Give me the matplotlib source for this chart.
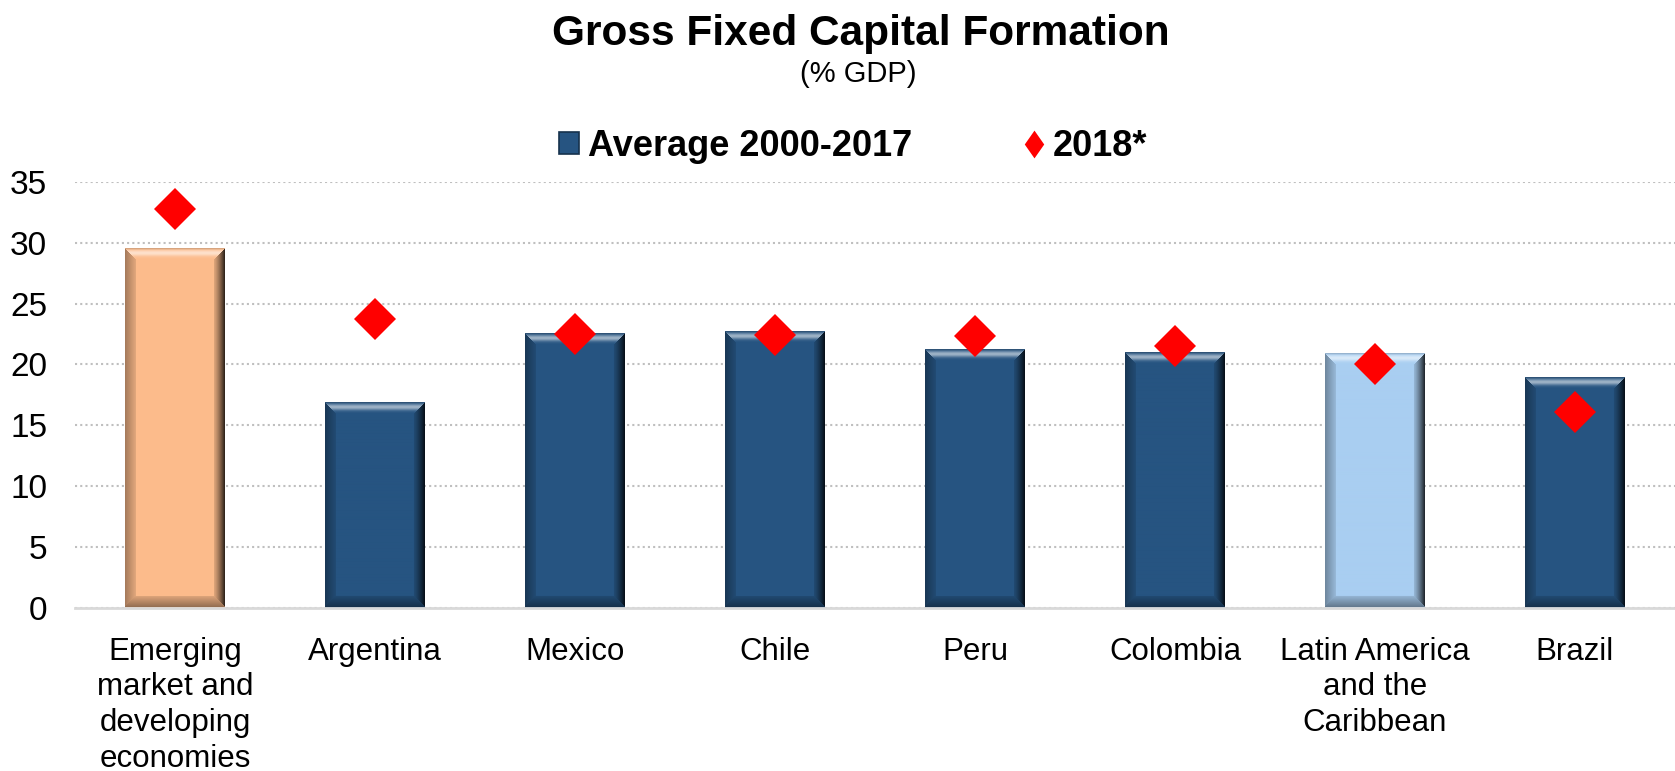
import numpy as np
import matplotlib
matplotlib.use("Agg")
import matplotlib.pyplot as plt
from matplotlib.colors import to_rgb
from matplotlib.lines import Line2D
from matplotlib.patches import Patch
from matplotlib.path import Path

# ---- data -------------------------------------------------------------
categories = [
    "Emerging\nmarket and\ndeveloping\neconomies",
    "Argentina",
    "Mexico",
    "Chile",
    "Peru",
    "Colombia",
    "Latin America\nand the\nCaribbean",
    "Brazil",
]
avg_2000_2017 = [29.5, 16.8, 22.5, 22.7, 21.2, 20.9, 20.85, 18.9]
value_2018 = [32.8, 23.7, 22.5, 22.4, 22.3, 21.5, 20.0, 16.1]
y_ticks = [0, 5, 10, 15, 20, 25, 30, 35]

NAVY = "#265481"
PEACH = "#FCBB8B"
SKY = "#A9CEF1"
bar_colors = [PEACH, NAVY, NAVY, NAVY, NAVY, NAVY, SKY, NAVY]

plt.rcParams["font.family"] = ["Liberation Sans", "DejaVu Sans"]

W, H, DPI = 1675, 771, 100
fig = plt.figure(figsize=(W / DPI, H / DPI), dpi=DPI)
fig.patch.set_facecolor("white")

ax_l, ax_r, ax_b, ax_t = 75, 1675, 607.5, 182
ax = fig.add_axes([ax_l / W, (H - ax_b) / H, (ax_r - ax_l) / W, (ax_b - ax_t) / H])

n = len(categories)
x = np.arange(n)
bar_w = 0.5
ymax = 35

px_per_x = (ax_r - ax_l) / n
px_per_y = (ax_b - ax_t) / ymax


def bevel_rgba(color, wpx, hpx, depth=11.0):
    """Shaded image of a bevelled bar face."""
    base = np.array(to_rgb(color))
    ys, xs = np.mgrid[0:hpx, 0:wpx].astype(float)
    dl = xs + 0.5
    dr = wpx - xs - 0.5
    dt = ys + 0.5
    db = hpx - ys - 0.5
    dmin = np.minimum(np.minimum(dl, dr), np.minimum(dt, db))
    t = np.clip(dmin / depth, 0, 1)
    light = np.zeros((hpx, wpx))
    dark = np.zeros((hpx, wpx))
    frame = dmin < depth
    top = frame & (dt <= np.minimum(np.minimum(dl, dr), db))
    bot = frame & ~top & (db <= np.minimum(dl, dr))
    right = frame & ~top & ~bot & (dr <= dl)
    left = frame & ~top & ~bot & ~right
    light[top] = 0.55 * np.exp(-((t[top] - 0.45) / 0.28) ** 2)
    dark[top] = 0.2 * np.clip(1 - t[top] / 0.2, 0, 1)
    dark[right] = 0.12 + 0.72 * (1 - t[right]) ** 1.3
    dark[left] = 0.10 + 0.25 * (1 - t[left])
    dark[bot] = 0.12 + 0.3 * (1 - t[bot])
    img = np.broadcast_to(base, (hpx, wpx, 3)).copy()
    img = img * (1 - dark[..., None])
    img = img + (1 - img) * light[..., None]
    return np.clip(img, 0, 1)


# bars (flat fill) with bevel shading laid over each one
ax.bar(x, avg_2000_2017, width=bar_w, color=bar_colors, zorder=2, linewidth=0)
for xi, v, c in zip(x, avg_2000_2017, bar_colors):
    wpx = int(round(bar_w * px_per_x))
    hpx = max(int(round(v * px_per_y)), 2)
    ax.imshow(bevel_rgba(c, wpx, hpx), extent=[xi - bar_w / 2, xi + bar_w / 2, 0, v],
              aspect="auto", interpolation="bilinear", zorder=2.5)

# 2018 markers
ax.plot(x, value_2018, linestyle="none", marker="D", markersize=21,
        color="#FF0000", markeredgewidth=0, zorder=4)

ax.set_xlim(-0.5, n - 0.5)
ax.set_ylim(0, ymax)
ax.set_yticks(y_ticks)
ax.set_yticklabels([str(t) for t in y_ticks], fontsize=24)
ax.set_xticks(x)
ax.set_xticklabels(categories, fontsize=22.5, linespacing=1.25)
ax.tick_params(axis="x", length=0, pad=21)
ax.tick_params(axis="y", length=0, pad=20)

ax.yaxis.grid(True, linestyle=(0, (1, 1.5)), color="#BFBFBF", linewidth=1.5, zorder=0)
ax.set_axisbelow(True)
for side in ["top", "right", "left"]:
    ax.spines[side].set_visible(False)
ax.spines["bottom"].set_color("#D9D9D9")
ax.spines["bottom"].set_linewidth(2)
ax.spines["bottom"].set_zorder(3)

# titles
fig.text(861 / W, 1 - 45 / H, "Gross Fixed Capital Formation", ha="center",
         va="baseline", fontsize=30.5, fontweight="bold")
fig.text(858 / W, 1 - 82 / H, "(% GDP)", ha="center", va="baseline", fontsize=21)

# legend
tall_diamond = Path([(0, 1), (0.7, 0), (0, -1), (-0.7, 0), (0, 1)],
                    [Path.MOVETO, Path.LINETO, Path.LINETO, Path.LINETO, Path.CLOSEPOLY])
handles = [
    Patch(facecolor=NAVY, edgecolor="#16324d", linewidth=1.2),
    Line2D([], [], linestyle="none", marker=tall_diamond, markersize=20,
           color="#FF0000", markeredgewidth=0),
]
fig.legend(handles, ["Average 2000-2017", "2018*"], loc="center",
           bbox_to_anchor=(853 / W, 1 - 146 / H), ncol=2, frameon=False,
           prop={"weight": "bold", "size": 26}, handlelength=0.55,
           handleheight=0.55, handletextpad=0.25, columnspacing=3.1)

fig.savefig("out.png", dpi=DPI)
